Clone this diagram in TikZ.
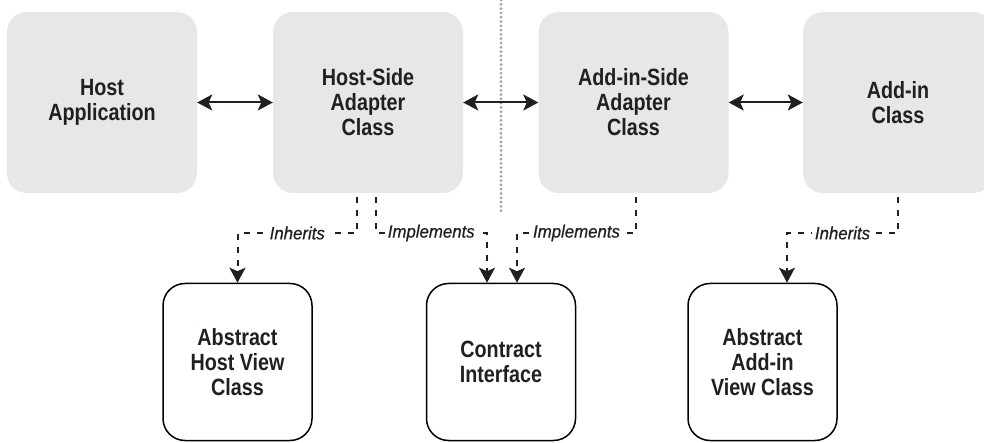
\documentclass[tikz,border=0pt]{standalone}
\usepackage{fontspec}
\setmainfont{Liberation Sans}
\newfontfamily\boxfont{Liberation Sans Bold}[FakeStretch=0.84]
\newfontfamily\lblfont{Liberation Sans Italic}[FakeStretch=0.95,FakeBold=0.6]
\usetikzlibrary{arrows.meta}
\definecolor{boxgray}{HTML}{E6E7E8}
\definecolor{dotgray}{HTML}{9D9FA2}
\definecolor{txt}{HTML}{231F20}
\begin{document}
\begin{tikzpicture}[x=1pt,y=-1pt,
  topbox/.style={fill=boxgray, rounded corners=20pt, minimum width=190pt, minimum height=181pt, align=center, inner sep=0pt, text=txt, font=\boxfont\fontsize{23.5}{25}\selectfont},
  botbox/.style={draw=black, line width=1.5pt, fill=white, rounded corners=22pt, minimum width=149pt, minimum height=157pt, align=center, inner sep=0pt, text=txt, font=\boxfont\fontsize{23.5}{25}\selectfont},
  tipA/.tip={Stealth[length=15pt,width=16pt,inset=3.5pt]},
  biarrow/.style={line width=2pt, txt, tipA-tipA},
  dep/.style={line width=2pt, txt, dash pattern=on 6pt off 7pt, shorten <=4pt, -tipA},
  lbl/.style={fill=white, inner sep=3pt, text=txt, font=\lblfont\fontsize{17.7}{20}\selectfont},
  divider/.style={dotgray, line width=3pt, line cap=round, dash pattern=on 0pt off 4.3pt}
]
\useasboundingbox (0,0) rectangle (984,443);
% top row
\node[topbox] (ha)  at (102,102.5) {Host\\Application};
\node[topbox] (hsa) at (368,102.5) {Host-Side\\Adapter\\Class};
\node[topbox] (asa) at (633.5,102.5) {Add-in-Side\\Adapter\\Class};
\node[topbox] (aic) at (898,102.5) {Add-in\\Class};
% bottom row
\node[botbox] (ahv) at (237.5,362) {Abstract\\Host View\\Class};
\node[botbox] (ci)  at (501,362) {Contract\\Interface};
\node[botbox] (aav) at (762.5,362) {Abstract\\Add-in\\View Class};
% divider
\coordinate (divtop) at (501,0);
\coordinate (divbot) at (501,212);
\draw[divider] (divtop) -- (divbot);
% bidirectional arrows
\draw[biarrow] (ha) -- (hsa);
\draw[biarrow] (hsa) -- (asa);
\draw[biarrow] (asa) -- (aic);
% dependency connectors
\draw[dep] (hsa.south -| 357,0) -- (357,233) -- node[lbl]{Inherits} (237.5,233) -- (ahv.north);
\draw[dep] (hsa.south -| 375.5,0) -- (375.5,233) -- node[lbl]{Implements} (487,233) -- (ci.north -| 487,0);
\draw[dep] (asa.south -| 636,0) -- (636,233) -- node[lbl]{Implements} (517,233) -- (ci.north -| 517,0);
\draw[dep] (aic.south -| 898,0) -- (898,233) -- node[lbl]{Inherits} (787,233) -- (aav.north -| 787,0);
\end{tikzpicture}
\end{document}
